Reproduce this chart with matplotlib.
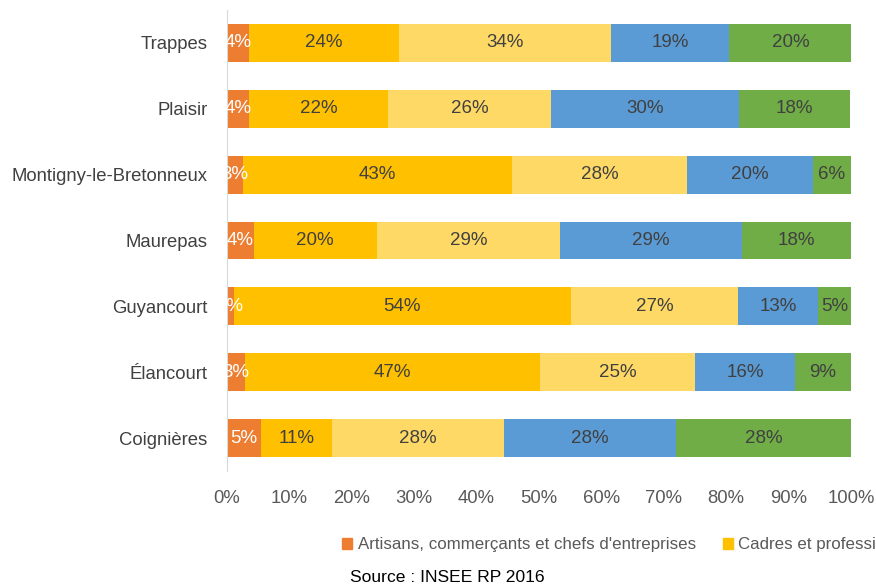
import matplotlib.pyplot as plt
import matplotlib.patches as mpatches
import numpy as np

plt.rcParams['font.family'] = ['Liberation Sans', 'DejaVu Sans']

communes = ['Trappes', 'Plaisir', 'Montigny-le-Bretonneux', 'Maurepas',
            'Guyancourt', 'Élancourt', 'Coignières']
categories = ["Artisans, commerçants et chefs d'entreprises",
              'Cadres et professions intellectuelles supérieures',
              'Professions intermédiaires', 'Employés', 'Ouvriers']
artisans = [3.5, 3.5, 2.6, 4.3, 1.1, 2.9, 5.4]
cadres = [24.1, 22.3, 43.1, 19.7, 54.0, 47.3, 11.4]
intermediaires = [34.0, 26.1, 28.0, 29.4, 26.8, 24.8, 27.6]
employes = [18.9, 30.1, 20.2, 29.1, 12.8, 16.0, 27.5]
ouvriers = [19.6, 17.9, 6.1, 17.5, 5.3, 9.0, 28.1]

colors = ['#ED7D31', '#FFC000', '#FFD966', '#5B9BD5', '#70AD47']
text_colors = ['white', '#404040', '#404040', '#404040', '#404040']

series = [artisans, cadres, intermediaires, employes, ouvriers]

fig = plt.figure(figsize=(8.76, 5.88), dpi=100)
ax = fig.add_axes([227 / 876, 1 - 471 / 588, 624 / 876, 461 / 588])

y = np.arange(len(communes))
left = np.zeros(len(communes))
for vals, col, tcol in zip(series, colors, text_colors):
    vals = np.array(vals)
    ax.barh(y, vals, left=left, height=0.575, color=col, edgecolor='none')
    for yi, l, v in zip(y, left, vals):
        ax.text(l + v / 2, yi, f'{round(v):.0f}%', ha='center', va='center',
                fontsize=13.5, color=tcol, clip_on=True)
    left += vals

ax.set_xlim(0, 100)
ax.set_ylim(len(communes) - 0.5, -0.5)
ax.set_yticks(y)
ax.set_yticklabels(communes, fontsize=13.3, color='#404040')
ax.set_xticks(np.arange(0, 101, 10))
ax.set_xticklabels([f'{t}%' for t in range(0, 101, 10)], fontsize=13.3, color='#595959')
ax.tick_params(axis='both', length=0)
ax.tick_params(axis='x', pad=14)
ax.tick_params(axis='y', pad=14)
for s in ['top', 'right', 'bottom']:
    ax.spines[s].set_visible(False)
ax.spines['left'].set_color('#D9D9D9')

handles = [mpatches.Patch(color=c, label=n) for c, n in zip(colors, categories)]
fig.legend(handles=handles, loc='center left', bbox_to_anchor=(327 / 876, 1 - 545 / 588),
           ncol=5, frameon=False, fontsize=12.2, handlelength=0.6, handleheight=0.6,
           handletextpad=0.3, columnspacing=1.6, labelcolor='#595959')

fig.text(350 / 876, 1 - 578 / 588, 'Source : INSEE RP 2016', fontsize=12.6,
         color='black', ha='left', va='center')

fig.savefig('out.png', dpi=100)
